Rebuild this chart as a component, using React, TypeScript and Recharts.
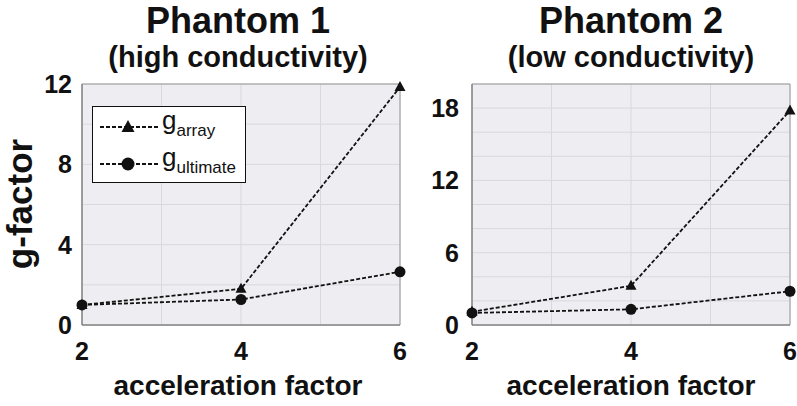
import React from 'react'
import { LineChart, Line, XAxis, YAxis, CartesianGrid, ReferenceArea, Legend } from 'recharts'

const accelerationFactors = [2, 4, 6]
const phantom1Array = [1.0, 1.8, 11.85]
const phantom1Ultimate = [1.0, 1.27, 2.65]
const phantom2Array = [1.1, 3.25, 17.8]
const phantom2Ultimate = [1.0, 1.3, 2.8]

const xTicks = [2, 3, 4, 5, 6]
const phantom1YTicks = [0, 2, 4, 6, 8, 10, 12]
const phantom2YTicks = [0, 2, 4, 6, 8, 10, 12, 14, 16, 18, 20]

const FONT = '"Liberation Sans", Arial, Helvetica, sans-serif'
const INK = '#111'
const PLOT_BG = '#eeeef2'
const GRID = '#d8d8dd'

const buildRows = (arr: number[], ult: number[]) =>
  accelerationFactors.map((r, i) => ({ r, array: arr[i], ultimate: ult[i] }))

const Triangle = (props: any) => {
  const { cx, cy, index } = props
  if (cx == null || cy == null) return null
  return <polygon key={`tri-${index}`} points={`${cx},${cy - 6} ${cx - 5.5},${cy + 4} ${cx + 5.5},${cy + 4}`} fill={INK} />
}

const Dot = (props: any) => {
  const { cx, cy, index } = props
  if (cx == null || cy == null) return null
  return <circle key={`dot-${index}`} cx={cx} cy={cy} r={5.5} fill={INK} />
}

function LegendBox() {
  const row = (marker: React.ReactNode, sub: string) => (
    <div style={{ display: 'flex', alignItems: 'center', height: 37 }}>
      <svg width={64} height={20} style={{ marginLeft: 5 }}>
        <line x1={2} y1={10} x2={60} y2={10} stroke={INK} strokeWidth={2} strokeDasharray="4 2" />
        {marker}
      </svg>
      <span style={{ fontFamily: FONT, fontSize: 26, color: INK, lineHeight: 1, marginTop: -8 }}>
        g<sub style={{ fontSize: 17, verticalAlign: -7 }}>{sub}</sub>
      </span>
    </div>
  )
  return (
    <div
      style={{
        width: 154,
        height: 77,
        boxSizing: 'border-box',
        border: '1.5px solid #111',
        background: '#fff',
        paddingTop: 1,
      }}
    >
      {row(<polygon points="30,3 23.5,15 36.5,15" fill={INK} />, 'array')}
      {row(<circle cx={30} cy={10} r={6.5} fill={INK} />, 'ultimate')}
    </div>
  )
}

interface PanelProps {
  rows: Array<{ r: number; array: number; ultimate: number }>
  width: number
  yAxisWidth: number
  rightMargin: number
  yMax: number
  yTicks: number[]
  labelEvery: number
  yTickMargin: number
  showLegend?: boolean
}

function Panel({ rows, width, yAxisWidth, rightMargin, yMax, yTicks, labelEvery, yTickMargin, showLegend }: PanelProps) {
  return (
    <LineChart width={width} height={406} data={rows} margin={{ top: 84, right: rightMargin, bottom: 0, left: 0 }}>
      <CartesianGrid fill={PLOT_BG} stroke={GRID} />
      <XAxis
        dataKey="r"
        type="number"
        domain={[2, 6]}
        ticks={xTicks}
        tickFormatter={(v: number) => (v % 2 === 0 ? String(v) : '')}
        height={81}
        axisLine={{ stroke: '#777' }}
        tickLine={false}
        tickSize={6}
        tickMargin={11}
        tick={{ fontFamily: FONT, fontSize: 25, fontWeight: 'bold', fill: INK }}
      />
      <YAxis
        type="number"
        domain={[0, yMax]}
        ticks={yTicks}
        tickFormatter={(v: number) => (v % labelEvery === 0 ? String(v) : '')}
        width={yAxisWidth}
        axisLine={{ stroke: '#777' }}
        tickLine={false}
        tickSize={6}
        tickMargin={yTickMargin}
        interval={0}
        tick={{ fontFamily: FONT, fontSize: 25, fontWeight: 'bold', fill: INK }}
      />
      <ReferenceArea x1={2} x2={6} y1={0} y2={yMax} fill="none" stroke="#9a9a9a" strokeWidth={1} />
      <Line
        dataKey="array"
        stroke={INK}
        strokeWidth={1.8}
        strokeDasharray="4 2"
        dot={Triangle}
        activeDot={false}
        isAnimationActive={false}
      />
      <Line
        dataKey="ultimate"
        stroke={INK}
        strokeWidth={1.8}
        strokeDasharray="4 2"
        dot={Dot}
        activeDot={false}
        isAnimationActive={false}
      />
      {showLegend && (
        <Legend
          layout="vertical"
          align="center"
          verticalAlign="middle"
          content={() => <LegendBox />}
          wrapperStyle={{ left: 92, top: 106, width: 154, height: 77 }}
        />
      )}
    </LineChart>
  )
}

export default function App() {
  const textStyle = { fontFamily: FONT, fontWeight: 'bold' as const, fill: INK }
  return (
    <div style={{ position: 'absolute', left: 0, top: 0, width: 797, height: 406, background: '#fff', overflow: 'hidden' }}>
      <div style={{ position: 'absolute', left: 0, top: 0 }}>
        <Panel
          rows={buildRows(phantom1Array, phantom1Ultimate)}
          width={410}
          yAxisWidth={82}
          rightMargin={10}
          yMax={12}
          yTicks={phantom1YTicks}
          labelEvery={4}
          yTickMargin={4}
          showLegend
        />
      </div>
      <div style={{ position: 'absolute', left: 400, top: 0 }}>
        <Panel
          rows={buildRows(phantom2Array, phantom2Ultimate)}
          width={397}
          yAxisWidth={72}
          rightMargin={7}
          yMax={20}
          yTicks={phantom2YTicks}
          labelEvery={6}
          yTickMargin={7}
        />
      </div>
      <svg width={797} height={406} style={{ position: 'absolute', left: 0, top: 0, pointerEvents: 'none' }}>
        <text x={238} y={33} textAnchor="middle" fontSize={36} {...textStyle}>Phantom 1</text>
        <text x={238} y={67} textAnchor="middle" fontSize={29} {...textStyle}>(high conductivity)</text>
        <text x={631} y={33} textAnchor="middle" fontSize={36} {...textStyle}>Phantom 2</text>
        <text x={631} y={67} textAnchor="middle" fontSize={29} {...textStyle}>(low conductivity)</text>
        <text x={238} y={395} textAnchor="middle" fontSize={28} {...textStyle}>acceleration factor</text>
        <text x={631} y={395} textAnchor="middle" fontSize={28} {...textStyle}>acceleration factor</text>
        <text x={0} y={0} transform="translate(32,204) rotate(-90)" textAnchor="middle" fontSize={35} {...textStyle}>g-factor</text>
      </svg>
    </div>
  )
}
